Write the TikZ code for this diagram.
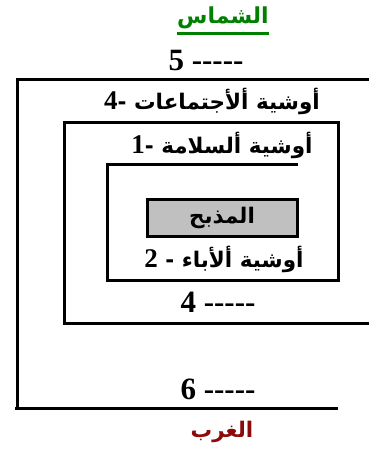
\documentclass[tikz,border=0pt]{standalone}
\usepackage{fontspec}
\setmainfont[Ligatures=TeXOff]{Liberation Serif}
\newfontfamily\arabicfont[Script=Arabic]{DejaVu Sans}
\TeXXeTstate=1
\definecolor{shgreen}{RGB}{0,128,0}
\definecolor{ghred}{RGB}{140,10,10}
\definecolor{altargray}{RGB}{192,192,192}
\newcommand{\dg}[1]{{\rmfamily\bfseries\fontsize{27}{30}\selectfont #1}}
\begin{document}
\begin{tikzpicture}[x=1pt,y=-1pt,
  wall/.style={line width=3pt},
  artxt/.style={font=\arabicfont\bfseries\fontsize{21.5}{24}\selectfont, inner sep=0pt},
  numtxt/.style={font=\rmfamily\bfseries\fontsize{31}{34}\selectfont, inner sep=0pt},
  altarbox/.style={draw, line width=3pt, fill=altargray, minimum width=150pt, minimum height=37pt, inner sep=0pt}]
\useasboundingbox (0,0) rectangle (369,454);
% outer enclosure (4 / 5 / 6)
\draw[wall] (369,80) -- (17,80) -- (17,408);
\draw[wall] (15,408) -- (338,408);
% middle enclosure (1)
\draw[wall] (64,323) -- (64,123) -- (338,123) -- (338,280);
\draw[wall] (62.5,323) -- (369,323);
% inner enclosure (2)
\draw[wall] (298,165) -- (107,165) -- (107,280) -- (339.5,280);
% altar
\node[altarbox] (altar) at (222,217.5) {};
\node[artxt] (altarlbl) at (altar.center) {\beginR المذبح\endR};
% labels
\node[artxt, text=shgreen, font=\arabicfont\bfseries\fontsize{22}{24}\selectfont] (north) at (223,18) {\beginR الشماس\endR};
\coordinate (ul) at (0,33.5);
\draw[shgreen, line width=3pt] (north.west |- ul) -- (north.east |- ul);
\node[numtxt] (five) at (206,61) {5 -----};
\node[artxt] (prayer4) at (212,101) {\beginR أوشية ألأجتماعات -\dg{4}\endR};
\node[artxt] (prayer1) at (222,145) {\beginR أوشية ألسلامة -\dg{1}\endR};
\node[artxt] (prayer2) at (224,259) {\beginR أوشية ألأباء - \dg{2}\endR};
\node[numtxt] (four) at (218,302) {4 -----};
\node[numtxt] (six) at (218,389) {6 -----};
\node[artxt, text=ghred] (west) at (222,432) {\beginR الغرب\endR};
\end{tikzpicture}
\end{document}
